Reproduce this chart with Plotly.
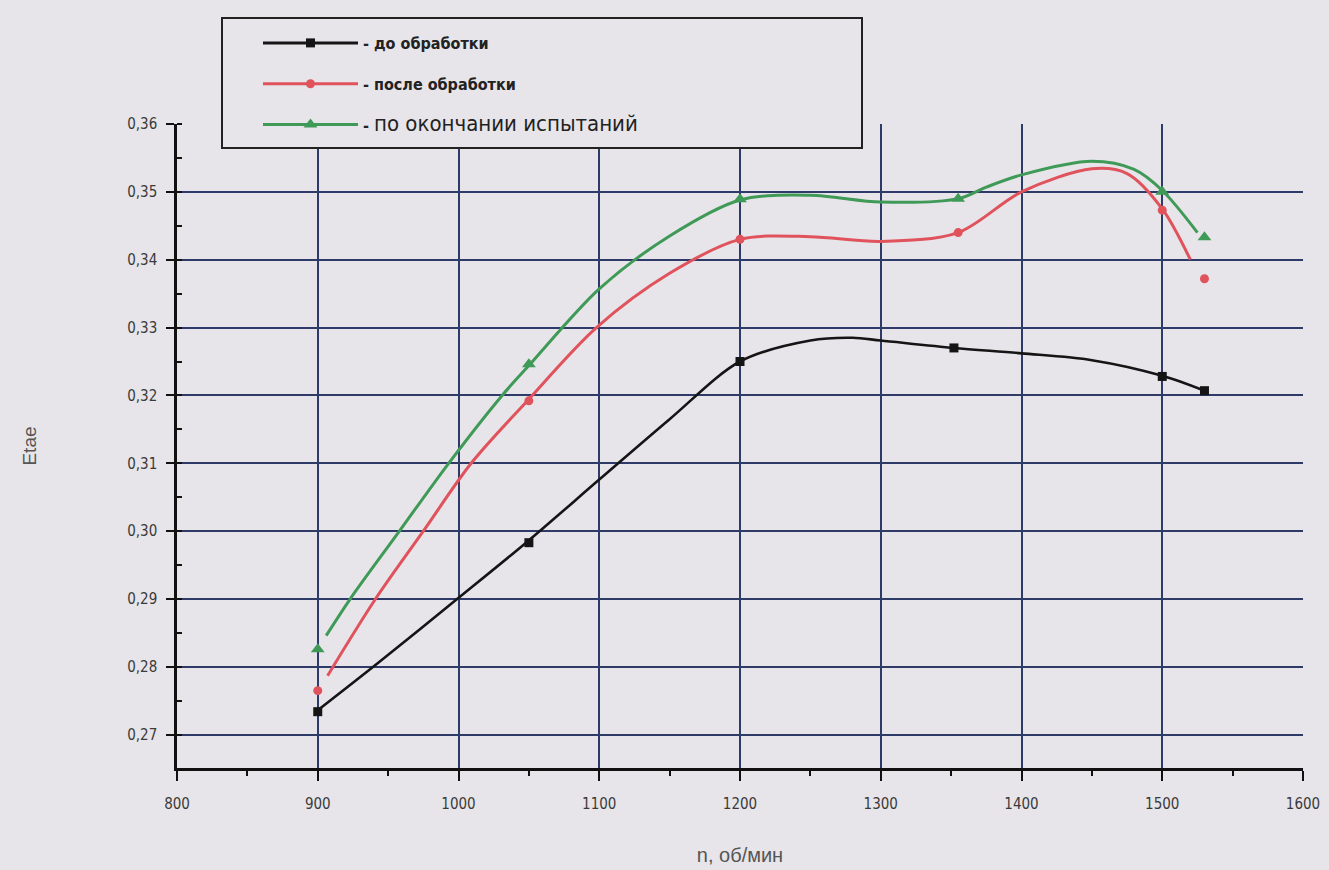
import plotly.graph_objects as go

# ---------------- data ----------------
names = ["- до обработки", "- после обработки",
         "- <span style='font-size:22px;font-weight:normal'>по окончании испытаний</span>"]

# measured points (markers)
x_before = [900, 1050, 1200, 1352, 1500, 1530]
y_before = [0.2734, 0.2983, 0.3250, 0.3270, 0.3228, 0.3207]

x_after = [900, 1050, 1200, 1355, 1500, 1530]
y_after = [0.2765, 0.3192, 0.3430, 0.3440, 0.3473, 0.3372]

x_end = [900, 1050, 1200, 1355, 1500, 1530]
y_end = [0.2826, 0.3246, 0.3489, 0.3490, 0.3500, 0.3433]

# smoothed curves as drawn in the picture
cx_before = [900, 943, 999, 1048, 1100, 1150, 1200, 1250, 1280, 1300, 1352, 1400, 1450, 1500, 1530]
cy_before = [0.2736, 0.2806, 0.2900, 0.2983, 0.3076, 0.3165, 0.3250, 0.3281, 0.3285, 0.3281,
             0.3270, 0.3262, 0.3252, 0.3229, 0.3207]

cx_after = [907, 941, 975, 1009, 1048, 1098, 1150, 1200, 1250, 1300, 1355, 1400, 1450, 1475, 1500, 1520]
cy_after = [0.2787, 0.2900, 0.3000, 0.3100, 0.3190, 0.3300, 0.3380, 0.3430, 0.3434, 0.3427, 0.3440,
            0.3500, 0.3534, 0.3527, 0.3475, 0.3400]

cx_end = [906, 923, 958, 993, 1031, 1050, 1100, 1150, 1200, 1250, 1300, 1355, 1375,
          1400, 1450, 1480, 1500, 1525]
cy_end = [0.2846, 0.2900, 0.3000, 0.3100, 0.3200, 0.3244, 0.3357, 0.3435, 0.3488,
          0.3495, 0.3485, 0.3490, 0.3507, 0.3525, 0.3545, 0.3533, 0.3502, 0.3440]

x_ticks = [800, 900, 1000, 1100, 1200, 1300, 1400, 1500, 1600]
y_ticks = [0.27, 0.28, 0.29, 0.30, 0.31, 0.32, 0.33, 0.34, 0.35, 0.36]
x_grid = [900, 1000, 1100, 1200, 1300, 1400, 1500]
y_grid = [0.27, 0.28, 0.29, 0.30, 0.31, 0.32, 0.33, 0.34, 0.35]

# ---------------- styles ----------------
BG = "#e7e5e9"
GRID = "#2e3a68"
colors = ["#151515", "#e0525c", "#3f9a57"]
symbols = ["square", "circle", "triangle-up"]
msizes = [9, 9, 12]
NARROW = "Liberation Sans Narrow, DejaVu Sans Condensed, Liberation Sans, Arial"

series = [
    (x_before, y_before, cx_before, cy_before),
    (x_after, y_after, cx_after, cy_after),
    (x_end, y_end, cx_end, cy_end),
]

fig = go.Figure()
for i, (mx, my, cx, cy) in enumerate(series):
    fig.add_trace(go.Scatter(
        x=cx, y=cy, mode="lines", showlegend=False, hoverinfo="skip",
        line=dict(color=colors[i], width=3 if i else 2.6, shape="spline", smoothing=0.9),
    ))
    fig.add_trace(go.Scatter(
        x=mx, y=my, mode="markers", showlegend=False,
        marker=dict(color=colors[i], symbol=symbols[i], size=msizes[i]),
    ))
    # legend entry (line + symbol)
    fig.add_trace(go.Scatter(
        x=[None], y=[None], mode="lines+markers", name=names[i],
        legendgroup=f"g{i}",
        line=dict(color=colors[i], width=3),
        marker=dict(color=colors[i], symbol=symbols[i], size=msizes[i]),
    ))

# overlay axes carrying only the grid lines
fig.add_trace(go.Scatter(x=[None], y=[None], xaxis="x2", yaxis="y2", showlegend=False))

PX0, PX1, PY0, PY1 = 177, 1303, 124, 768
W, H = PX1 - PX0, PY1 - PY0


def px(x):
    return (x - PX0) / W


def py(y):
    return 1 - (y - PY0) / H


fig.update_layout(
    width=1329, height=870,
    margin=dict(l=PX0, r=1329 - PX1, t=PY0, b=870 - PY1),
    paper_bgcolor=BG, plot_bgcolor=BG,
    separators=", ",
    font=dict(family="Liberation Sans, Arial", color="#3a3a3a"),
    xaxis=dict(
        range=[800, 1600], tickvals=x_ticks, showgrid=False, zeroline=False,
        showline=True, linecolor="#111", linewidth=3, automargin=False,
        ticks="outside", ticklen=10, tickwidth=2, tickcolor="#111",
        ticklabelstandoff=10,
        minor=dict(dtick=50, ticks="outside", ticklen=5, tickwidth=2, tickcolor="#111"),
        tickfont=dict(family=NARROW, size=15, color="#3a3a3a"),
        title=dict(text="n, об/мин", font=dict(size=20, color="#555"), standoff=36),
    ),
    yaxis=dict(
        range=[0.2651, 0.36], tickvals=y_ticks, tickformat=".2f", showgrid=False, zeroline=False,
        showline=True, linecolor="#111", linewidth=2.5, automargin=False,
        ticks="outside", ticklen=8, tickwidth=2, tickcolor="#111",
        ticklabelstandoff=6,
        minor=dict(dtick=0.005, ticks="inside", ticklen=5, tickwidth=2, tickcolor="#111"),
        tickfont=dict(family=NARROW, size=15, color="#3a3a3a"),
        title=dict(text="Etae", font=dict(size=19, color="#555"), standoff=86),
    ),
    xaxis2=dict(overlaying="x", matches="x", tickvals=x_grid, showgrid=True, gridcolor=GRID,
                gridwidth=2, showticklabels=False, ticks="", showline=False, zeroline=False,
                anchor="y2", layer="below traces", automargin=False),
    yaxis2=dict(overlaying="y", matches="y", tickvals=y_grid, showgrid=True, gridcolor=GRID,
                gridwidth=2, showticklabels=False, ticks="", showline=False, zeroline=False,
                anchor="x2", layer="below traces", automargin=False),
    legend=dict(
        x=px(258), y=py(26), xanchor="left", yanchor="top",
        bgcolor="rgba(0,0,0,0)", borderwidth=0,
        font=dict(family=NARROW, size=16, color="#222", weight="bold"),
        tracegroupgap=17, itemwidth=95,
    ),
    shapes=[
        dict(type="rect", xref="paper", yref="paper", layer="above",
             x0=px(222), x1=px(862), y0=py(148), y1=py(18),
             fillcolor=BG, line=dict(color="#222", width=2)),
    ],
    showlegend=True,
)

fig.write_html("out.html")
